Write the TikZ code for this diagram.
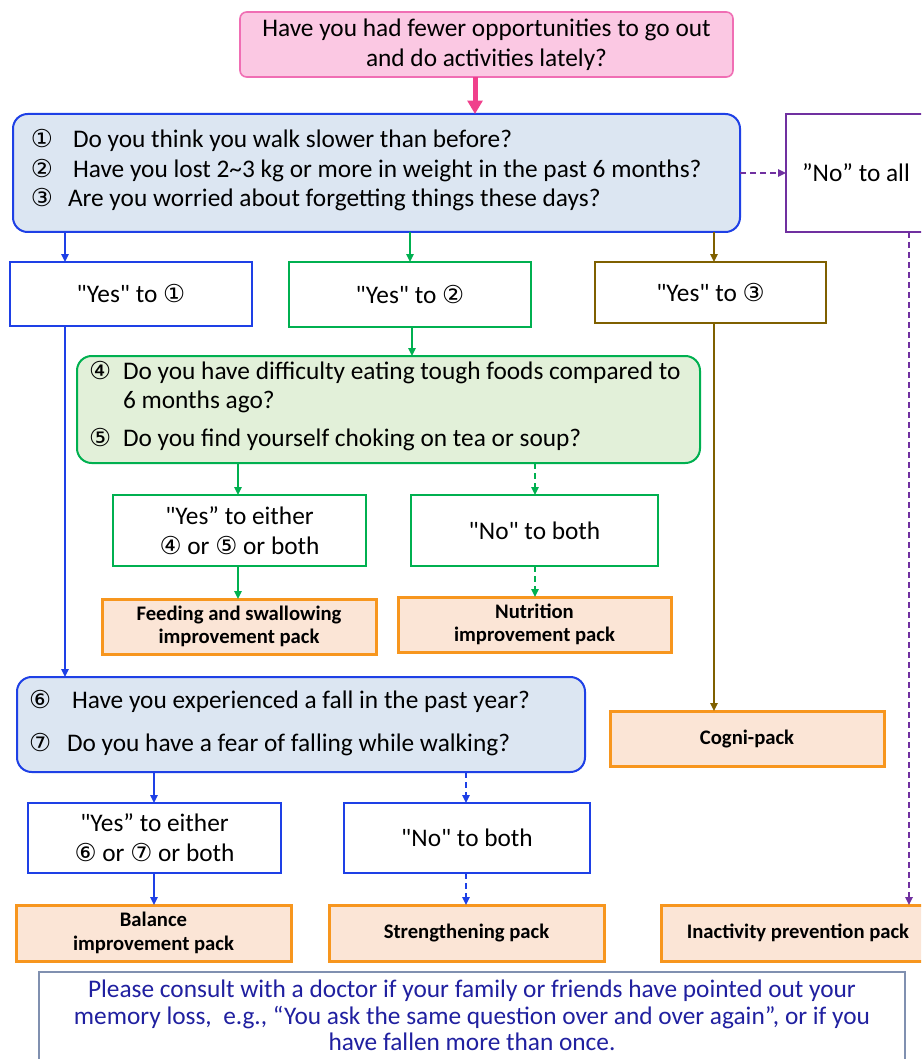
\documentclass[tikz,border=0pt]{standalone}
\usepackage{fontspec}
\setmainfont{Carlito}[Ligatures=TeXOff]
\newfontfamily\symfont{DejaVu Sans}
\usetikzlibrary{arrows.meta}
\definecolor{pinkfill}{RGB}{251,200,227}
\definecolor{pinkline}{RGB}{240,110,180}
\definecolor{pinkarrow}{RGB}{240,64,140}
\definecolor{bluefill}{RGB}{220,230,242}
\definecolor{blueline}{RGB}{30,64,230}
\definecolor{greenfill}{RGB}{226,240,217}
\definecolor{greenline}{RGB}{0,176,80}
\definecolor{brownline}{RGB}{127,96,0}
\definecolor{purpleline}{RGB}{112,48,160}
\definecolor{orangeline}{RGB}{247,150,30}
\definecolor{orangefill}{RGB}{251,229,214}
\definecolor{noteline}{RGB}{128,144,176}
\definecolor{notetext}{RGB}{32,32,160}
\newcommand\cn[1]{{\symfont\fontsize{18.5}{20}\selectfont #1}}
\newcommand\bx[7]{\node[#1, minimum width={(#5-#3)*0.75pt}, minimum height={(#6-#4)*0.75pt}] (#2) at ({(#3+#5)/2},{(#4+#6)/2}) {#7};}
\begin{document}
\begin{tikzpicture}[x=0.75pt,y=-0.75pt,
  base/.style={inner sep=0pt, outer sep=0pt, align=center, font=\fontsize{19}{22.5}\selectfont},
  pinkbox/.style={base, draw=pinkline, fill=pinkfill, line width=1.2pt, rounded corners=5pt},
  qblue/.style={base, draw=blueline, fill=bluefill, line width=1.5pt, rounded corners=11pt},
  qgreen/.style={base, draw=greenline, fill=greenfill, line width=1.5pt, rounded corners=11pt},
  ybox/.style={base, draw=#1, fill=white, line width=1.5pt},
  pack/.style={base, draw=orangeline, fill=orangefill, line width=2.25pt, font=\bfseries\fontsize{15.5}{17.5}\selectfont},
  qtext/.style={inner sep=0pt, outer sep=0pt, anchor=mid west, font=\fontsize{19}{22.5}\selectfont},
  arr/.style={draw=#1, line width=1.5pt, -{Triangle[length=6pt,width=5.5pt]}},
  darr/.style={arr=#1, dash pattern=on 4.5pt off 3pt},
]
\useasboundingbox (0,0) rectangle (921,1059);
\clip (0,0) rectangle (921,1059);
\fill[white] (0,0) rectangle (921,1059);

% boxes
\bx{pinkbox}{top}{240}{12}{733}{77}{Have you had fewer opportunities to go out\\and do activities lately?}
\bx{qblue}{q1}{13}{114}{740}{232}{}
\bx{ybox=purpleline}{noall}{786}{114}{926}{232}{”No” to all}
\bx{ybox=blueline}{y1}{10}{262}{252}{326}{"Yes" to \cn{①}}
\bx{ybox=greenline}{y2}{289}{262}{531}{327}{"Yes" to \cn{②}}
\bx{ybox=brownline}{y3}{595}{262}{826}{323}{"Yes" to \cn{③}}
\bx{qgreen}{gq}{77}{356}{700}{463}{}
\bx{ybox=greenline}{ye45}{113}{495}{366}{566}{"Yes” to either\\\cn{④} or \cn{⑤} or both}
\bx{ybox=greenline}{no45}{411}{495}{658}{566}{"No" to both}
\bx{pack}{feed}{102}{599}{376}{654}{Feeding and swallowing\\improvement pack}
\bx{pack}{nutri}{398}{597}{671}{652}{Nutrition\\improvement pack}
\bx{qblue}{q2}{17}{677}{585}{772}{}
\bx{pack}{cogni}{610}{711}{884}{766}{Cogni-pack}
\bx{ybox=blueline}{ye67}{28}{803}{281}{873}{"Yes” to either\\\cn{⑥} or \cn{⑦} or both}
\bx{ybox=blueline}{no67}{344}{803}{590}{873}{"No" to both}
\bx{pack}{bal}{16}{905}{291}{961}{Balance\\improvement pack}
\bx{pack}{str}{329}{905}{604}{961}{Strengthening pack}
\bx{pack}{inact}{661}{905}{935}{961}{Inactivity prevention pack}
\node[base, draw=noteline, line width=0.9pt, minimum width={866*0.75pt}, minimum height={110*0.75pt}, anchor=north west] (note) at (39,972) {};
\node[base, text=notetext, font=\fontsize{19}{19.8}\selectfont, anchor=north] (notetxt) at (472,980) {Please consult with a doctor if your family or friends have pointed out your\\memory loss,\ \ e.g., “You ask the same question over and over again”, or if you\\have fallen more than once.};

% question texts
\node[qtext] (n1) at (31,144) {\cn{①}};
\node[qtext] (t1) at (73,144) {Do you think you walk slower than before?};
\node[qtext] (n2) at (31,174) {\cn{②}};
\node[qtext] (t2) at (73,174) {Have you lost 2\textasciitilde3 kg or more in weight in the past 6 months?};
\node[qtext] (n3) at (31,203) {\cn{③}};
\node[qtext] (t3) at (68,203) {Are you worried about forgetting things these days?};
\node[qtext] (n4) at (89,376) {\cn{④}};
\node[qtext] (t4) at (123,376) {Do you have difficulty eating tough foods compared to};
\node[qtext] (t4b) at (123,405) {6 months ago?};
\node[qtext] (n5) at (89,443) {\cn{⑤}};
\node[qtext] (t5) at (123,443) {Do you find yourself choking on tea or soup?};
\node[qtext] (n6) at (29,705) {\cn{⑥}};
\node[qtext] (t6) at (72,705) {Have you experienced a fall in the past year?};
\node[qtext] (n7) at (29,748) {\cn{⑦}};
\node[qtext] (t7) at (67,748) {Do you have a fear of falling while walking?};

% column coordinates
\coordinate (cp) at (475,0);
\coordinate (cb1) at (65,0);
\coordinate (cg1) at (410,0);
\coordinate (cg2) at (412,0);
\coordinate (cbr) at (714,0);
\coordinate (cg3) at (238,0);
\coordinate (cg4) at (535,0);
\coordinate (cb2) at (154,0);
\coordinate (cb3) at (466,0);
\coordinate (cpu) at (909,0);

% connectors
\draw[draw=pinkarrow, line width=3.75pt, -{Triangle[length=10pt,width=11pt]}] (top.south -| cp) -- (q1.north -| cp);
\draw[darr=purpleline] (q1.east |- noall.west) -- (noall.west);
\draw[arr=blueline] (q1.south -| cb1) -- (y1.north -| cb1);
\draw[arr=greenline] (q1.south -| cg1) -- (y2.north -| cg1);
\draw[arr=brownline] (q1.south -| cbr) -- (y3.north -| cbr);
\draw[arr=greenline] (y2.south -| cg2) -- (gq.north -| cg2);
\draw[arr=greenline] (gq.south -| cg3) -- (ye45.north -| cg3);
\draw[darr=greenline] (gq.south -| cg4) -- (no45.north -| cg4);
\draw[arr=greenline] (ye45.south -| cg3) -- (feed.north -| cg3);
\draw[darr=greenline] (no45.south -| cg4) -- (nutri.north -| cg4);
\draw[arr=blueline] (y1.south -| cb1) -- (q2.north -| cb1);
\draw[arr=brownline] (y3.south -| cbr) -- (cogni.north -| cbr);
\draw[arr=blueline] (q2.south -| cb2) -- (ye67.north -| cb2);
\draw[darr=blueline] (q2.south -| cb3) -- (no67.north -| cb3);
\draw[arr=blueline] (ye67.south -| cb2) -- (bal.north -| cb2);
\draw[darr=blueline] (no67.south -| cb3) -- (str.north -| cb3);
\draw[darr=purpleline] (noall.south -| cpu) -- (inact.north -| cpu);
\end{tikzpicture}
\end{document}
